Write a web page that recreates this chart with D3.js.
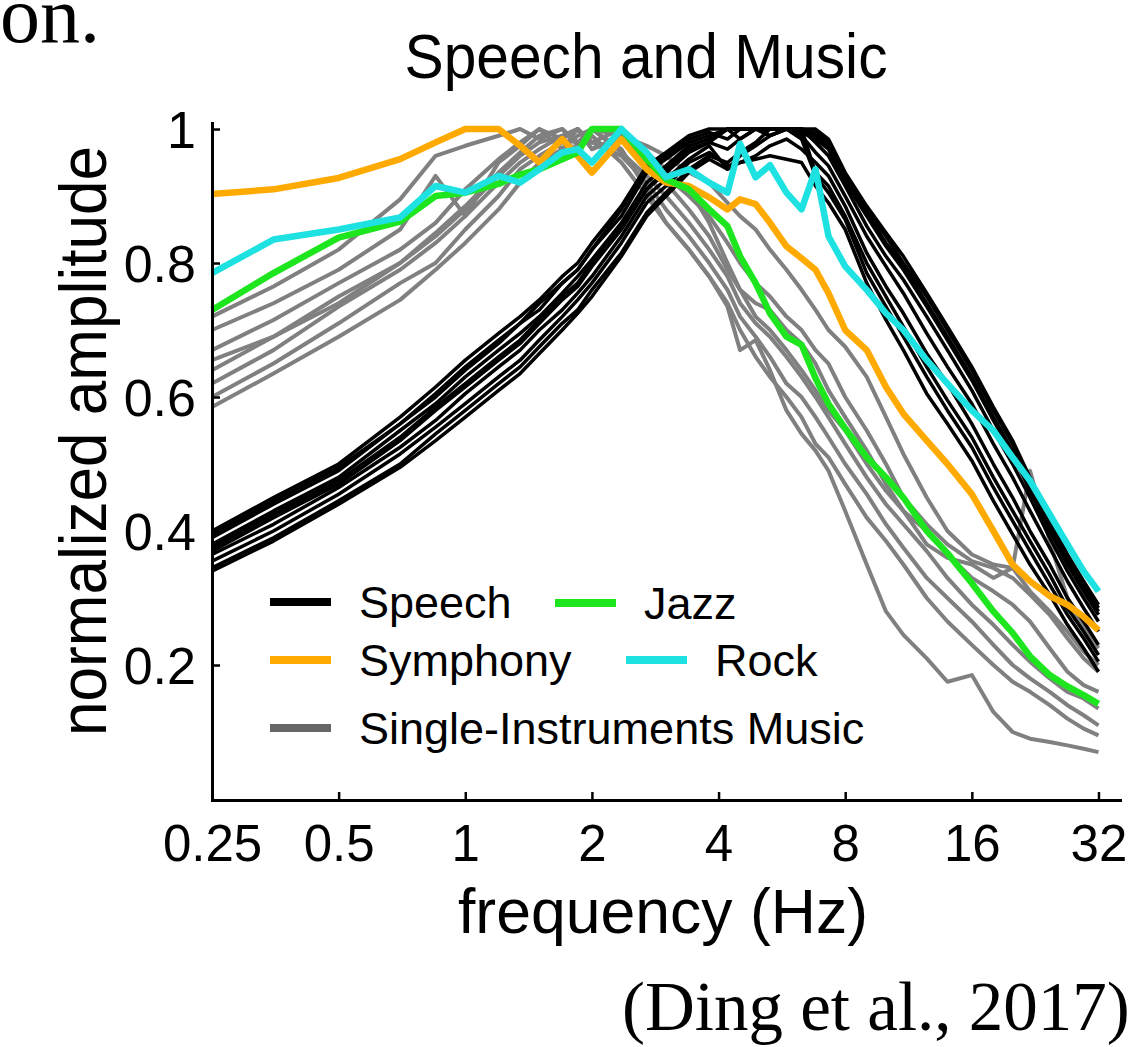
<!DOCTYPE html>
<html lang="en">
<head>
<meta charset="UTF-8">
<title>Speech and Music</title>
<script src="https://d3js.org/d3.v7.min.js"></script>
<style>
  body { margin: 0; background: #fff; }
  svg { display: block; font-family: "Liberation Sans", Arial, sans-serif; }
</style>
</head>
<body>
<div id="chart"></div>
<script>
// modulation frequencies (Hz), shared by every curve
const freqs = [0.25,0.35,0.5,0.7,0.85,1,1.2,1.35,1.5,1.7,1.85,2,2.35,2.7,3,3.4,3.8,4.2,4.5,4.9,5.3,5.8,6.3,6.8,7.3,8,9,10,11,12.5,14,16,18,20,22,24.5,27,29.5,32];

// speech corpora (black)
const speechCurves = [
  [.40,.45,.50,.57,.615,.655,.695,.72,.745,.78,.80,.83,.885,.945,.965,.99,1.0,1.0,1.0,1.0,1.0,1.0,1.0,1.0,.985,.935,.885,.845,.81,.755,.705,.645,.585,.535,.48,.42,.365,.325,.29],
  [.39,.44,.49,.56,.60,.64,.68,.71,.73,.77,.79,.82,.87,.935,.955,.98,.99,1,1,1,1,1,1,.99,.975,.925,.875,.83,.795,.74,.69,.63,.57,.52,.465,.41,.355,.315,.28],
  [.38,.43,.48,.55,.59,.63,.67,.695,.72,.755,.78,.805,.86,.92,.945,.975,.985,1,.985,1,1,1,1,.995,.98,.93,.88,.84,.80,.75,.70,.64,.58,.53,.475,.415,.36,.32,.285],
  [.395,.445,.495,.56,.605,.645,.685,.71,.74,.77,.79,.82,.88,.94,.96,.985,.995,.985,1,1,.99,1,1,.98,.96,.915,.855,.81,.775,.72,.67,.61,.55,.50,.45,.39,.34,.30,.265],
  [.37,.42,.47,.535,.58,.615,.655,.68,.71,.745,.765,.795,.85,.91,.935,.965,.98,.97,.985,1,1,1,.995,.985,.97,.92,.87,.825,.79,.735,.685,.625,.565,.515,.46,.40,.35,.31,.275],
  [.365,.41,.465,.525,.565,.605,.645,.67,.70,.73,.755,.78,.84,.90,.925,.955,.975,.94,.96,.975,.99,1,.99,.965,.945,.90,.84,.795,.755,.695,.645,.59,.53,.48,.43,.375,.325,.285,.25],
  [.355,.40,.455,.515,.555,.59,.63,.655,.685,.72,.745,.77,.83,.89,.915,.95,.965,.945,.95,.96,.975,.985,.97,.95,.93,.885,.815,.765,.725,.665,.62,.56,.50,.45,.40,.35,.30,.265,.23],
  [.345,.39,.445,.50,.545,.58,.62,.645,.675,.71,.73,.76,.815,.875,.905,.94,.96,.95,.965,.98,1,1,.985,.93,.905,.865,.785,.735,.69,.63,.58,.525,.465,.415,.37,.32,.275,.24,.205],
  [.34,.385,.44,.495,.535,.57,.61,.635,.665,.70,.725,.75,.81,.87,.90,.935,.955,.94,.95,.955,.96,.955,.95,.915,.89,.85,.77,.715,.67,.605,.56,.505,.445,.395,.35,.305,.26,.225,.19],
  [.375,.425,.475,.54,.585,.62,.66,.685,.715,.75,.77,.80,.855,.91,.94,.97,.98,1,1,1,.99,1,1,.935,.915,.87,.80,.75,.705,.645,.595,.54,.48,.43,.385,.335,.285,.25,.215]
];

// single-instrument music (grey)
const instrumentCurves = [
  [.72,.765,.82,.895,.96,.975,.99,1.0,.985,1.0,.975,1.0,.99,.975,.96,.935,.92,.89,.87,.85,.82,.79,.76,.73,.70,.675,.63,.57,.515,.45,.40,.365,.35,.345,.49,.385,.30,.255,.225],
  [.70,.74,.79,.85,.93,.87,.95,.975,1.0,.985,1.0,.97,.985,.95,.93,.90,.87,.83,.80,.77,.75,.72,.70,.67,.65,.60,.55,.50,.45,.41,.38,.355,.345,.33,.305,.275,.24,.21,.19],
  [.67,.715,.77,.82,.86,.91,.955,.98,1.0,.97,1.0,.98,1.0,.965,.94,.91,.86,.80,.76,.74,.73,.70,.68,.65,.61,.57,.52,.47,.43,.38,.36,.35,.33,.345,.31,.28,.25,.22,.20],
  [.64,.69,.75,.80,.845,.885,.935,.965,.99,1.0,.98,1.0,.965,.93,.90,.86,.82,.78,.74,.71,.69,.66,.63,.60,.57,.53,.48,.44,.41,.37,.33,.29,.26,.23,.205,.18,.16,.15,.135],
  [.62,.67,.735,.79,.83,.87,.92,.95,.97,.99,1.0,.98,.96,.92,.88,.84,.80,.76,.72,.69,.66,.62,.60,.57,.54,.50,.455,.41,.375,.33,.30,.265,.23,.20,.18,.16,.14,.125,.11],
  [.60,.65,.71,.77,.80,.85,.90,.94,.96,.98,.97,.99,.95,.90,.86,.82,.78,.74,.70,.66,.63,.60,.57,.53,.51,.47,.42,.385,.35,.30,.265,.23,.20,.175,.16,.14,.12,.105,.095],
  [.585,.635,.69,.745,.79,.83,.88,.92,.95,.97,.99,1.0,.97,.91,.86,.82,.78,.735,.67,.685,.64,.58,.545,.52,.49,.43,.35,.28,.245,.21,.175,.185,.13,.10,.09,.085,.08,.075,.07],
  [.655,.69,.74,.80,.84,.88,.93,.96,.98,.99,1.0,.97,.99,.96,.92,.88,.84,.79,.76,.72,.70,.67,.64,.61,.58,.55,.50,.46,.43,.40,.365,.33,.31,.29,.265,.225,.19,.17,.16]
];

const symphony = [.903,.91,.927,.955,.98,1.0,1.0,.975,.95,.985,.96,.935,.985,.94,.92,.915,.898,.88,.895,.888,.86,.825,.807,.79,.755,.70,.67,.615,.575,.535,.50,.455,.40,.35,.325,.303,.29,.272,.252];
const jazz = [.73,.785,.838,.862,.90,.905,.918,.932,.94,.955,.965,1.0,1.0,.955,.925,.91,.88,.855,.81,.77,.725,.69,.678,.628,.59,.553,.51,.48,.45,.40,.367,.322,.28,.248,.213,.185,.168,.155,.142];
const rock = [.785,.835,.85,.868,.915,.905,.93,.92,.94,.965,.97,.95,1.0,.965,.928,.94,.92,.905,.978,.928,.946,.905,.88,.94,.84,.795,.76,.725,.70,.655,.62,.58,.55,.51,.475,.425,.38,.34,.31];

const xTicks = [0.25, 0.5, 1, 2, 4, 8, 16, 32];
const yTicks = [0.2, 0.4, 0.6, 0.8, 1];

const W = 1141, H = 1047;
const svg = d3.select("#chart").append("svg")
    .attr("width", W)
    .attr("height", H);

// log2 frequency axis, linear amplitude axis
const x = d3.scaleLog().base(2).domain([0.25, 36]).range([212, 1120]);
const y = d3.scaleLinear().domain([0, 1.009]).range([799, 123]);

const line = d3.line()
    .x((d, i) => x(freqs[i]))
    .y(d => y(d));

function drawCurves(data, color, width) {
    svg.append("g")
        .selectAll("path")
        .data(data)
        .join("path")
        .attr("d", line)
        .attr("fill", "none")
        .attr("stroke", color)
        .attr("stroke-width", width)
        .attr("stroke-linejoin", "round");
}

drawCurves(instrumentCurves, "#808080", 4);
drawCurves(speechCurves, "#000", 3.5);
drawCurves([symphony], "#ffaa00", 6.5);
drawCurves([jazz], "#1ee61e", 6.5);
drawCurves([rock], "#1ee1e1", 6.5);

// axes
const xAxis = svg.append("g")
    .attr("transform", "translate(0,800)")
    .call(d3.axisBottom(x).tickValues(xTicks).tickFormat(d3.format("")).tickSize(-8).tickSizeOuter(0));
xAxis.selectAll("text")
    .attr("y", 61)
    .attr("dy", null)
    .style("font-size", "51px");

const yAxis = svg.append("g")
    .attr("transform", "translate(212,0)")
    .call(d3.axisLeft(y).tickValues(yTicks).tickFormat(d => d === 1 ? "1" : d3.format(".1f")(d)).tickSize(-8).tickSizeOuter(0));
yAxis.selectAll("text")
    .attr("x", -16)
    .attr("dy", "0.36em")
    .style("font-size", "52px");

svg.selectAll(".domain").attr("stroke", "#000").attr("stroke-width", 3).attr("stroke-linecap", "square");
svg.selectAll(".tick line").attr("stroke", "#000").attr("stroke-width", 2.5);
svg.selectAll(".tick text").attr("fill", "#000").style("font-family", "'Liberation Sans', Arial, sans-serif");

// titles
svg.append("text")
    .attr("x", 646).attr("y", 78)
    .attr("text-anchor", "middle")
    .attr("textLength", 483).attr("lengthAdjust", "spacingAndGlyphs")
    .style("font-size", "63px")
    .text("Speech and Music");

svg.append("text")
    .attr("x", 663).attr("y", 933)
    .attr("text-anchor", "middle")
    .attr("textLength", 410).attr("lengthAdjust", "spacingAndGlyphs")
    .style("font-size", "63px")
    .text("frequency (Hz)");

svg.append("text")
    .attr("transform", "translate(106,441) rotate(-90)")
    .attr("text-anchor", "middle")
    .attr("textLength", 590).attr("lengthAdjust", "spacingAndGlyphs")
    .style("font-size", "66px")
    .text("normalized amplitude");

// legend
const legendItems = [
    { label: "Speech", color: "#000", x: 270, y: 602 },
    { label: "Jazz", color: "#1ee61e", x: 555, y: 603 },
    { label: "Symphony", color: "#ffaa00", x: 270, y: 660 },
    { label: "Rock", color: "#1ee1e1", x: 626, y: 660 },
    { label: "Single-Instruments Music", color: "#666", x: 270, y: 728 }
];
const legend = svg.append("g");
legend.selectAll("line")
    .data(legendItems)
    .join("line")
    .attr("x1", d => d.x).attr("x2", d => d.x + 61)
    .attr("y1", d => d.y).attr("y2", d => d.y)
    .attr("stroke", d => d.color)
    .attr("stroke-width", 8);
legend.selectAll("text")
    .data(legendItems)
    .join("text")
    .attr("x", d => d.x + 89)
    .attr("y", d => d.y + 16)
    .style("font-size", "45px")
    .text(d => d.label);

// slide text around the figure
svg.append("text")
    .attr("x", 0).attr("y", 42)
    .style("font-family", "'Liberation Serif', 'Times New Roman', serif")
    .style("font-size", "80px")
    .text("on.");

svg.append("text")
    .attr("x", 622).attr("y", 1030)
    .style("font-family", "'Liberation Serif', 'Times New Roman', serif")
    .style("font-size", "69px")
    .text("(Ding et al., 2017)");
</script>
</body>
</html>
